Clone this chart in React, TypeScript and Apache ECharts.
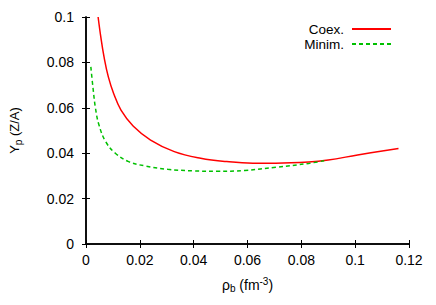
import React, { useEffect, useRef } from "react";
import * as echarts from "echarts";

const coexX = [0.0045, 0.0055, 0.0067, 0.0083, 0.0103, 0.013, 0.0175, 0.024, 0.0328, 0.0426, 0.0523, 0.062, 0.0705, 0.0827, 0.09, 0.1009, 0.1161];
const coexY = [0.1, 0.0912, 0.0824, 0.0736, 0.0662, 0.059, 0.052, 0.0458, 0.0407, 0.0378, 0.0363, 0.0356, 0.0356, 0.0361, 0.037, 0.0392, 0.0421];
const minimX = [0.0018, 0.0027, 0.0035, 0.0048, 0.0073, 0.0109, 0.0158, 0.0219, 0.0304, 0.0401, 0.0486, 0.059, 0.0705, 0.0827, 0.0885];
const minimY = [0.078, 0.0677, 0.06, 0.0525, 0.0451, 0.04, 0.0363, 0.0344, 0.0329, 0.0322, 0.032, 0.0324, 0.0338, 0.0355, 0.0367];
const xTicks = [0, 0.02, 0.04, 0.06, 0.08, 0.1, 0.12];
const yTicks = [0, 0.02, 0.04, 0.06, 0.08, 0.1];

const FONT = "Liberation Sans";
const RED = "#ff0000";
const GREEN = "#00c000";

export default function App() {
  const ref = useRef<HTMLDivElement>(null);
  useEffect(() => {
    if (!ref.current) return;
    const chart = echarts.init(ref.current, null, { renderer: "svg" });
    const txt = { color: "#000", fontFamily: FONT, fontSize: 14 };
    const axisLine = { show: true, lineStyle: { color: "#000", width: 1.5 } };
    const axisTick = { show: true, inside: true, length: 4, lineStyle: { color: "#000", width: 1 } };
    const fmt = (v: number) => String(+v.toFixed(2));
    chart.setOption({
      animation: false,
      backgroundColor: "#fff",
      textStyle: { fontFamily: FONT },
      grid: { left: 80, top: 17, right: 27, bottom: 61, containLabel: false },
      legend: {
        orient: "vertical",
        right: 44,
        top: 22,
        padding: 0,
        align: "right",
        itemWidth: 39,
        itemHeight: 8,
        itemGap: 1,
        itemStyle: { opacity: 0 },
        textStyle: { ...txt, fontSize: 13.5, lineHeight: 13, padding: [0, 3, 0, 0] },
        data: ["Coex.", "Minim."],
      },
      xAxis: [
        {
          type: "value",
          min: 0,
          max: 0.12,
          interval: 0.02,
          position: "bottom",
          axisLine,
          axisTick,
          splitLine: { show: false },
          axisLabel: { ...txt, margin: 9, formatter: fmt, customValues: xTicks },
          name: "ρ{sub|b} (fm{sup|-3})",
          nameLocation: "middle",
          nameGap: 32,
          nameTextStyle: {
            ...txt,
            rich: {
              sub: { fontFamily: FONT, fontSize: 10, color: "#000", verticalAlign: "bottom", padding: [7, 0, 0, 0] },
              sup: { fontFamily: FONT, fontSize: 10, color: "#000", verticalAlign: "top", padding: [0, 0, 7, 0] },
            },
          },
        },
        {
          type: "value",
          min: 0,
          max: 0.12,
          interval: 0.02,
          position: "top",
          axisLine,
          axisTick,
          splitLine: { show: false },
          axisLabel: { show: false },
        },
      ],
      yAxis: [
        {
          type: "value",
          min: 0,
          max: 0.1,
          interval: 0.02,
          position: "left",
          axisLine,
          axisTick,
          splitLine: { show: false },
          axisLabel: { ...txt, margin: 12, formatter: fmt, customValues: yTicks },
          name: "Y{sub|p} (Z/A)",
          nameLocation: "middle",
          nameGap: 63,
          nameRotate: 90,
          nameTextStyle: {
            ...txt,
            fontSize: 13,
            rich: {
              sub: { fontFamily: FONT, fontSize: 10, color: "#000", verticalAlign: "bottom", padding: [7, 0, 0, 0] },
            },
          },
        },
        {
          type: "value",
          min: 0,
          max: 0.1,
          interval: 0.02,
          position: "right",
          axisLine,
          axisTick,
          splitLine: { show: false },
          axisLabel: { show: false },
        },
      ],
      series: [
        {
          name: "Coex.",
          type: "line",
          data: coexX.map((x, i) => [x, coexY[i]]),
          showSymbol: false,
          symbol: "none",
          smooth: 0.4,
          lineStyle: { color: RED, width: 1.5 },
          itemStyle: { color: RED },
        },
        {
          name: "Minim.",
          type: "line",
          data: minimX.map((x, i) => [x, minimY[i]]),
          showSymbol: false,
          symbol: "none",
          smooth: 0.4,
          lineStyle: { color: GREEN, width: 1.5, type: [4, 3] },
          itemStyle: { color: GREEN },
        },
      ],
    });
    return () => chart.dispose();
  }, []);
  return <div ref={ref} style={{ width: 436, height: 305, position: "absolute", left: 0, top: 0 }} />;
}
